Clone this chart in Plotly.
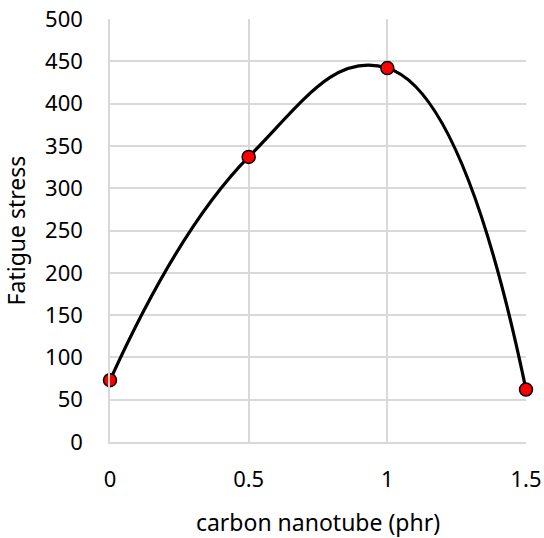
import plotly.graph_objects as go

x_vals = [0, 0.5, 1, 1.5]
y_vals = [73, 337, 442, 62]
x_ticks = [0, 0.5, 1, 1.5]
x_tick_text = ["0", "0.5", "1", "1.5"]
y_ticks = list(range(0, 501, 50))

fig = go.Figure()
fig.add_trace(go.Scatter(
    x=x_vals, y=y_vals, mode="lines+markers",
    line=dict(color="black", width=3.2, shape="spline", smoothing=1.3),
    marker=dict(color="#ff0000", size=13, line=dict(color="black", width=1.5)),
    showlegend=False, cliponaxis=False,
))

font = dict(family="Noto Sans, Open Sans, sans-serif", size=19, color="#000000")
tickfont = dict(family="Noto Sans, Open Sans, sans-serif", size=22, color="#000000")
fig.update_layout(
    width=544, height=538,
    margin=dict(l=110, r=18, t=19, b=96, autoexpand=False),
    paper_bgcolor="white", plot_bgcolor="white",
    font=font,
    xaxis=dict(
        range=[0, 1.5], tickvals=x_ticks, ticktext=x_tick_text, tickfont=tickfont,
        showgrid=True, gridcolor="#d9d9d9", gridwidth=1.5,
        zeroline=False, showline=True, linecolor="#d9d9d9", linewidth=1.5,
        ticks="outside", ticklen=17, tickcolor="rgba(0,0,0,0)",
        title=dict(text="carbon nanotube (phr)", standoff=25),
        automargin=False, ticklabeloverflow="allow",
    ),
    yaxis=dict(
        range=[0, 500], tickvals=y_ticks, tickfont=tickfont,
        showgrid=True, gridcolor="#d9d9d9", gridwidth=1.5,
        zeroline=False, showline=True, linecolor="#d9d9d9", linewidth=1.5,
        ticks="outside", ticklen=21, tickcolor="rgba(0,0,0,0)",
        title=dict(text="Fatigue stress", standoff=18),
        automargin=False, ticklabeloverflow="allow",
    ),
)

fig.write_html(
    "out.html",
    config={"displayModeBar": False},
    post_script="document.body.style.margin='0';document.body.style.overflow='hidden';",
)
